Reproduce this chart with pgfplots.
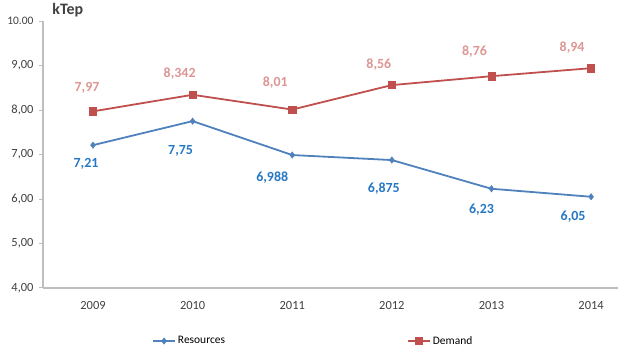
\documentclass[border=0pt]{standalone}
\usepackage{pgfplots}
\pgfplotsset{compat=1.18}
\usepackage{pgfplotstable}
\usepackage{fontspec}
\setmainfont{Carlito}
\definecolor{resline}{RGB}{79,129,189}
\definecolor{demline}{RGB}{192,80,77}
\definecolor{reslab}{RGB}{38,120,196}
\definecolor{demlab}{RGB}{220,150,148}
\definecolor{axgray}{RGB}{190,190,190}
\definecolor{ticktext}{RGB}{64,64,64}

\pgfplotstableread{
x y dx dy lab
0 7.21 -7 -19 7,21
1 7.75 -12 -30 7,75
2 6.988 -20 -23 6,988
3 6.875 -8 -29 6,875
4 6.23 -10 -21 6,23
5 6.05 -18 -20 6,05
}\resources

\pgfplotstableread{
x y dx dy lab
0 7.97 -6 23 7,97
1 8.342 -13 21 8,342
2 8.01 -17 27 8,01
3 8.56 -13 20 8,56
4 8.76 -17 25 8,76
5 8.94 -19 21 8,94
}\demand

\begin{document}
\begin{tikzpicture}
\useasboundingbox (0,0) rectangle (620bp,354bp);
\begin{axis}[
  at={(43bp,66bp)}, anchor=south west,
  scale only axis, width=575bp, height=267bp,
  xmin=-0.502, xmax=5.27, ymin=4, ymax=10,
  axis x line*=bottom, axis y line*=left,
  axis line style={draw=axgray, line width=1.3bp, -},
  xtick={0,...,5},
  xticklabels={2009,2010,2011,2012,2013,2014},
  major x tick style={draw=none},
  extra x ticks={0.5,1.5,2.5,3.5,4.5},
  extra x tick labels={},
  extra x tick style={major tick length=5bp, tick style={draw=axgray, line width=1bp}},
  ytick={4,5,6,7,8,9,10},
  yticklabels={{4,00},{5,00},{6,00},{7,00},{8,00},{9,00},{\fontsize{11.5}{13}\selectfont 10.00}},
  tick align=outside,
  major tick length=4bp,
  y tick style={draw=axgray, line width=1bp},
  tick label style={font=\fontsize{12.5}{14}\selectfont, text=ticktext},
  yticklabel style={xshift=-2bp},
  xticklabel style={yshift=-6bp},
  clip=false,
  legend columns=2,
  legend style={at={(0.47,-0.1985)}, anchor=center, draw=none, fill=none,
    font=\fontsize{11.5}{13}\selectfont, inner sep=0pt,
    /tikz/every even column/.append style={column sep=180bp}},
  legend image code/.code={
    \draw[#1, mark repeat=2, mark phase=2] plot coordinates {(0bp,0bp) (11bp,0bp) (22bp,0bp)};
  },
]
\addplot[color=resline, line width=1.8bp, mark=diamond*, mark size=3.2bp,
  mark options={fill=resline, draw=resline, line width=0.5bp},
  nodes near coords, point meta=explicit symbolic,
  visualization depends on={\thisrow{dx} \as \dx},
  visualization depends on={\thisrow{dy} \as \dy},
  every node near coord/.append style={anchor=center, xshift=\dx bp, yshift=\dy bp,
    font=\fontsize{14}{16}\selectfont\bfseries, text=reslab}]
  table[x=x, y=y, meta=lab] {\resources};
\addlegendentry{Resources}
\addplot[color=demline, line width=1.8bp, mark=square*, mark size=3.6bp,
  mark options={fill=demline, draw=demline, line width=0.5bp},
  nodes near coords, point meta=explicit symbolic,
  visualization depends on={\thisrow{dx} \as \dx},
  visualization depends on={\thisrow{dy} \as \dy},
  every node near coord/.append style={anchor=center, xshift=\dx bp, yshift=\dy bp,
    font=\fontsize{14}{16}\selectfont\bfseries, text=demlab}]
  table[x=x, y=y, meta=lab] {\demand};
\addlegendentry{Demand}
\node[anchor=base west, inner sep=0pt, font=\fontsize{16}{18}\selectfont\bfseries, text=ticktext]
  at (axis cs:-0.41,10.135) {kTep};
\end{axis}
\end{tikzpicture}
\end{document}
